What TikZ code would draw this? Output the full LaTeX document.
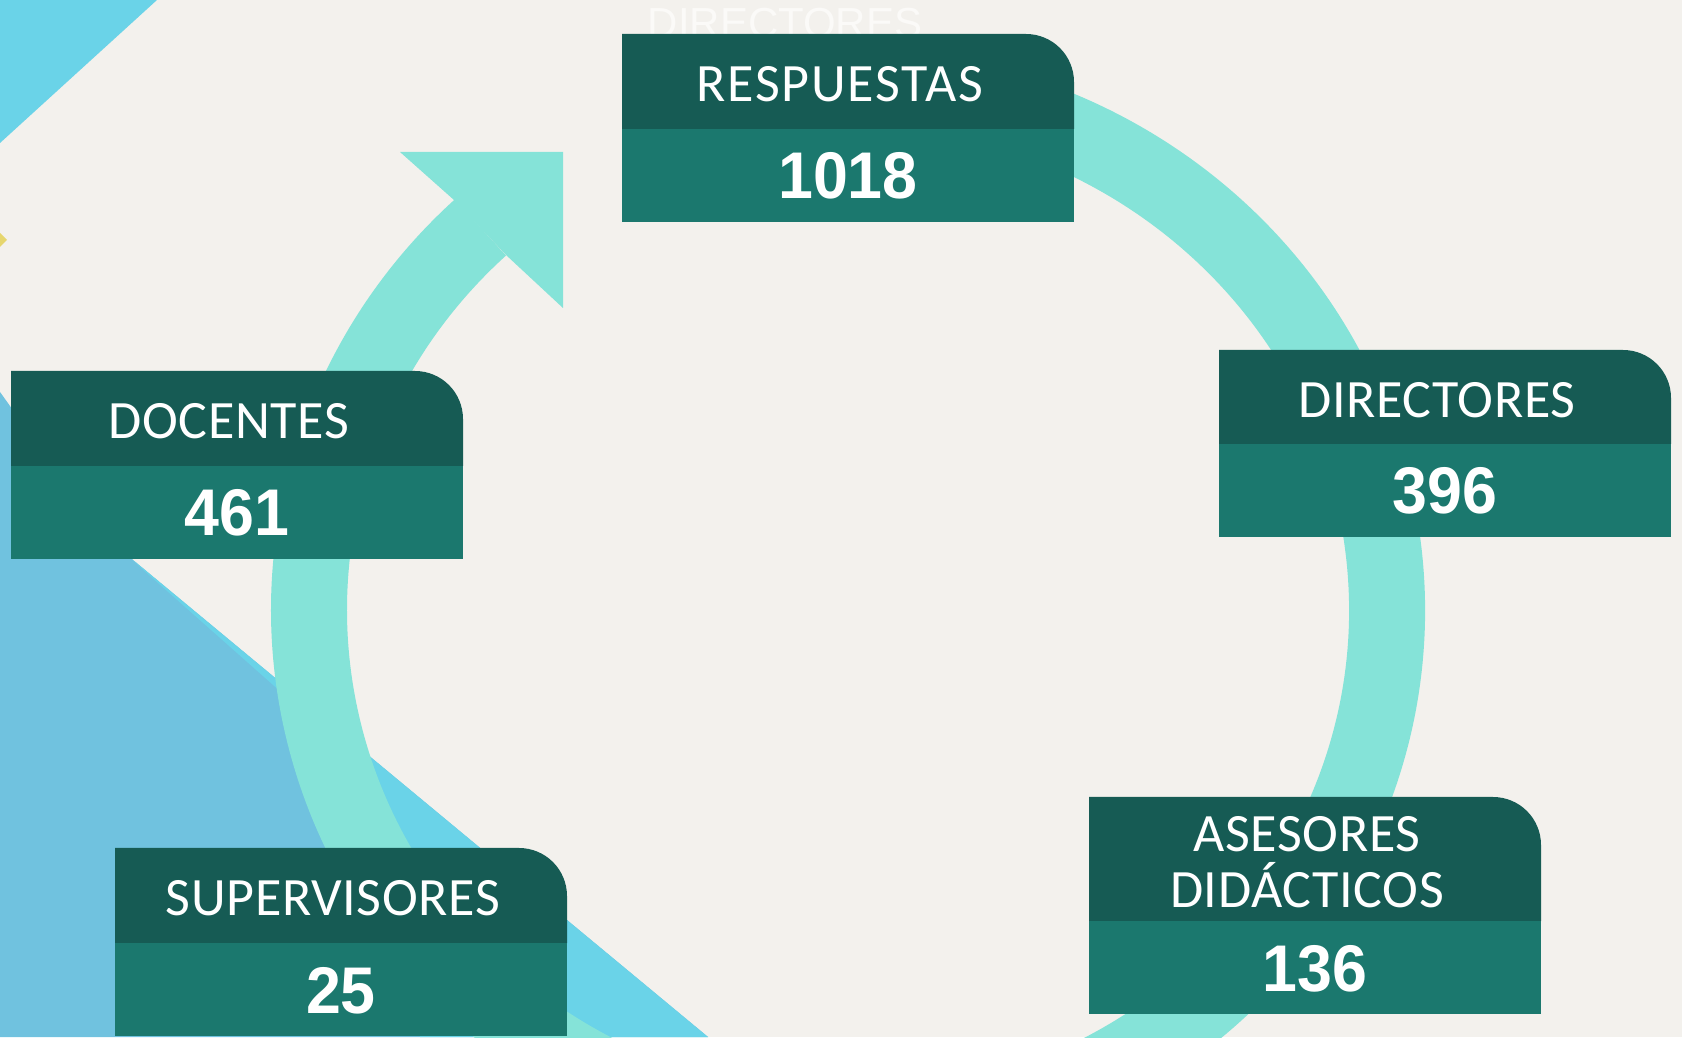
\documentclass[tikz,border=0pt]{standalone}
\usepackage{fontspec}
\newfontfamily\etiq[LetterSpace=1.2]{Carlito}
\newfontfamily\etiqancha[LetterSpace=3.4]{Carlito}
\newfontfamily\cifra[FakeStretch=0.95]{Liberation Sans}
\newfontfamily\fina{Liberation Sans}
\usetikzlibrary{calc}

\definecolor{fondo}{HTML}{F3F1ED}
\definecolor{celeste}{HTML}{6AD3E8}
\definecolor{azul}{HTML}{70C2DF}
\definecolor{amarillo}{HTML}{E6D66E}
\definecolor{anillo}{HTML}{85E3D8}
\definecolor{oscuro}{HTML}{165B54}
\definecolor{medio}{HTML}{1B786E}
\definecolor{fantasma}{HTML}{FBFAF8}

\tikzset{
  cabecera/.style={fill=oscuro},
  valor/.style={fill=medio},
  etiqueta/.style={text=white,inner sep=0pt,align=center,
    font=\etiq\fontsize{54}{56}\selectfont},
  cifra/.style={text=white,inner sep=0pt,anchor=base,
    font=\cifra\bfseries\fontsize{66}{66}\selectfont}
}

% #1 nombre, #2 x izquierda, #3 y divisor, #4 y superior, #5 etiqueta, #6 cifra
\newcommand{\caja}[6]{%
  \fill[cabecera] (#2,#3) -- (#2,#4) -- ({#2+404},#4)
    arc[start angle=90,end angle=0,radius=48] -- ({#2+452},#3) -- cycle;
  \fill[valor] (#2,{#3-93}) rectangle ({#2+452},#3);
  \node[etiqueta] (#1-t) at ({#2+218},{(#3+#4)/2-3}) {#5};
  \node[cifra] (#1-n) at ({#2+226},{#3-70}) {#6};
}

\begin{document}
\begin{tikzpicture}[x=1pt,y=1pt]
  \useasboundingbox (0,0) rectangle (1682,1037);
  \clip (0,0) rectangle (1682,1037);
  \fill[fondo] (0,0) rectangle (1682,1037);

  % fondo: manchas azules
  \fill[celeste] (0,1037) -- (157,1037) -- (0,894) -- cycle;
  \fill[amarillo] (0,804) -- (7,797) -- (0,790) -- cycle;
  \fill[azul] (0,645) -- (20,617) -- (133,477) -- (708,0) -- (0,0) -- cycle;
  \fill[celeste] (133,477) -- (708,0) -- (420,0) -- (330,237) -- (290,337) -- (140,470) -- cycle;

  % ciclo
  \coordinate (centro) at (848,427);
  \draw[anillo,line width=76pt] (centro) ++(100:539 and 523)
    arc[start angle=100,end angle=-227,x radius=539,y radius=523];
  \coordinate (ext) at (454,837);
  \coordinate (int) at (506,782);
  \fill[anillo] (ext) -- (400,885) -- (563,885) -- (563,729) -- (int) -- cycle;

  \node[text=fantasma,inner sep=0pt,anchor=base,font=\fina\fontsize{42}{42}\selectfont]
    (fantasma) at (785,999) {DIRECTORES};

  % cajas
  \caja{resp}{622}{908}{1003}{\etiqancha RESPUESTAS}{1018}
  \caja{doc}{11}{571}{666}{DOCENTES}{461}
  \caja{dir}{1219}{593}{687}{DIRECTORES}{396}
  \caja{ase}{1089}{116}{240}{ASESORES\\DIDÁCTICOS}{136}
  \caja{sup}{115}{94}{189}{SUPERVISORES}{25}
\end{tikzpicture}
\end{document}
